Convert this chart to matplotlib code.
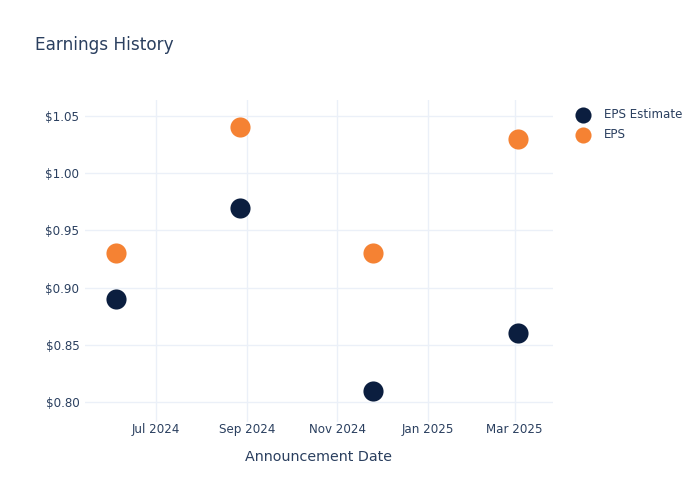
import matplotlib
matplotlib.use("Agg")
import matplotlib.pyplot as plt
import matplotlib.dates as mdates
import matplotlib.ticker as mticker
import numpy as np
import datetime as dt

dates = ["2024-06-04", "2024-08-27", "2024-11-25", "2025-03-03"]
eps_estimate = [0.89, 0.97, 0.81, 0.86]
eps_actual = [0.93, 1.04, 0.93, 1.03]
y_ticks = [0.80, 0.85, 0.90, 0.95, 1.00, 1.05]
x_ticks = ["2024-07-01", "2024-09-01", "2024-11-01", "2025-01-01", "2025-03-01"]
x_tick_labels = ["Jul 2024", "Sep 2024", "Nov 2024", "Jan 2025", "Mar 2025"]

d = [dt.datetime.strptime(s, "%Y-%m-%d") for s in dates]
xt = [dt.datetime.strptime(s, "%Y-%m-%d") for s in x_ticks]

text_color = "#2a3f5f"
grid_color = "#ebf0f8"

fig = plt.figure(figsize=(7, 5), dpi=100)
ax = fig.add_axes([0.1214, 0.156, 0.6686, 0.644])

ax.scatter(d, eps_estimate, s=210, color="#0b1e3f", label="EPS Estimate", zorder=3, linewidths=0)
ax.scatter(d, eps_actual, s=210, color="#f58233", label="EPS", zorder=3, linewidths=0)

ax.set_xlim(dt.datetime(2024, 5, 14), dt.datetime(2025, 3, 27))
ax.set_ylim(0.7825, 1.064)
ax.set_xticks(xt)
ax.set_xticklabels(x_tick_labels)
ax.set_yticks(y_ticks)
ax.yaxis.set_major_formatter(mticker.FuncFormatter(lambda v, p: f"${v:.2f}"))

ax.grid(True, color=grid_color, linewidth=1)
ax.set_axisbelow(True)
for sp in ax.spines.values():
    sp.set_visible(False)
ax.tick_params(axis="both", length=0, labelsize=8.6, labelcolor=text_color)
ax.tick_params(axis="x", pad=0.5)
ax.tick_params(axis="y", pad=4)

ax.set_xlabel("Announcement Date", fontsize=10.3, color=text_color, labelpad=10)

fig.text(0.05, 0.911, "Earnings History", fontsize=12.2, color=text_color, ha="left", va="center")

leg = ax.legend(loc="upper left", bbox_to_anchor=(1.028, 0.99), frameon=False,
                fontsize=8.6, labelcolor=text_color, handletextpad=0.75, borderaxespad=0,
                labelspacing=0.6, markerscale=0.8)

fig.savefig("out.png", dpi=100)
